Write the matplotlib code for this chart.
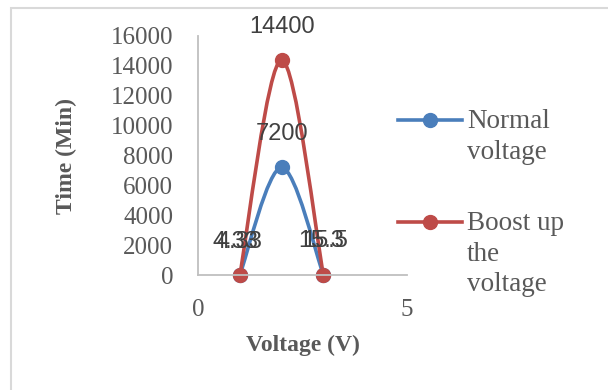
import matplotlib.pyplot as plt
from matplotlib.path import Path
from matplotlib.patches import PathPatch, Rectangle
from matplotlib.lines import Line2D

# data
voltage = [1, 2, 3]
normal_time = [4.33, 7200, 15.5]
boost_time = [4.33, 14400, 15.3]
series_names = ["Normal\nvoltage", "Boost up\nthe\nvoltage"]
y_ticks = [0, 2000, 4000, 6000, 8000, 10000, 12000, 14000, 16000]
x_ticks = [0, 5]

blue = "#4A7EBB"
red = "#BE4B48"
grey_txt = "#595959"
serif = "Liberation Serif"
sans = "Liberation Sans"


def smooth_path(xs, ys):
    # excel-like smoothed line (catmull-rom turned into bezier segments)
    pts = list(zip(xs, ys))
    verts = [pts[0]]
    codes = [Path.MOVETO]
    n = len(pts)
    for i in range(n - 1):
        p0 = pts[i - 1] if i > 0 else pts[i]
        p1 = pts[i]
        p2 = pts[i + 1]
        p3 = pts[i + 2] if i + 2 < n else pts[i + 1]
        c1 = (p1[0] + (p2[0] - p0[0]) / 6, p1[1] + (p2[1] - p0[1]) / 6)
        c2 = (p2[0] - (p3[0] - p1[0]) / 6, p2[1] - (p3[1] - p1[1]) / 6)
        verts += [c1, c2, p2]
        codes += [Path.CURVE4] * 3
    return Path(verts, codes)


fig = plt.figure(figsize=(6.08, 3.90), dpi=100)
fig.patch.set_facecolor("white")

# outer chart frame (right/bottom edges fall outside the picture)
fig.add_artist(Rectangle((11 / 608, -0.2), 1.2, 1.2 - 8 / 390,
                         transform=fig.transFigure, fill=False,
                         edgecolor="#D9D9D9", lw=1.5))

ax = fig.add_axes([198 / 608, 1 - 275 / 390, 209 / 608, 239 / 390])
ax.set_xlim(0, 5)
ax.set_ylim(0, 16000)
ax.set_xticks(x_ticks)
ax.set_yticks(y_ticks)
for s in ["top", "right"]:
    ax.spines[s].set_visible(False)
for s in ["left", "bottom"]:
    ax.spines[s].set_color("#BFBFBF")
    ax.spines[s].set_linewidth(1.3)
ax.tick_params(length=0, labelsize=18, labelcolor=grey_txt)
ax.tick_params(axis="y", pad=18)
ax.tick_params(axis="x", pad=17)
for lbl in ax.get_xticklabels() + ax.get_yticklabels():
    lbl.set_fontfamily(serif)

for ys, col, dx in [(normal_time, blue, 1.5), (boost_time, red, -1.5)]:
    ax.add_patch(PathPatch(smooth_path(voltage, ys), fill=False,
                           edgecolor=col, lw=2.6, capstyle="round"))
    ax.plot(voltage, ys, "o", color=col, ms=10, clip_on=False)
    for xv, yv in zip(voltage, ys):
        if yv < 1000:
            off = (dx - 1.5 if xv < 2 else dx, 24)
        else:
            off = (0, 24)
        ax.annotate(f"{yv:g}", (xv, yv), xytext=off, textcoords="offset points",
                    ha="center", va="center", fontsize=17, color="#404040",
                    fontfamily=sans)

fig.text(303 / 608, 1 - 345 / 390, "Voltage (V)", ha="center", va="center",
         fontsize=17, fontweight="bold", color=grey_txt, fontfamily=serif)
fig.text(66 / 608, 1 - 156 / 390, "Time (Min)", ha="center", va="center",
         rotation=90, fontsize=17, fontweight="bold", color=grey_txt,
         fontfamily=serif)

# legend drawn by hand so the marker sits on the first text line
for name, col, ytop in [(series_names[0], blue, 120), (series_names[1], red, 222)]:
    yf = 1 - ytop / 390
    fig.add_artist(Line2D([398 / 608, 462 / 608], [yf, yf], color=col, lw=2.6,
                          transform=fig.transFigure))
    fig.add_artist(Line2D([430 / 608], [yf], marker="o", ms=10, color=col,
                          transform=fig.transFigure))
    fig.text(467 / 608, yf + 11 / 390, name, ha="left", va="top", fontsize=19.5,
             color=grey_txt, fontfamily=serif, linespacing=1.3)

fig.savefig("out.png", dpi=100)
